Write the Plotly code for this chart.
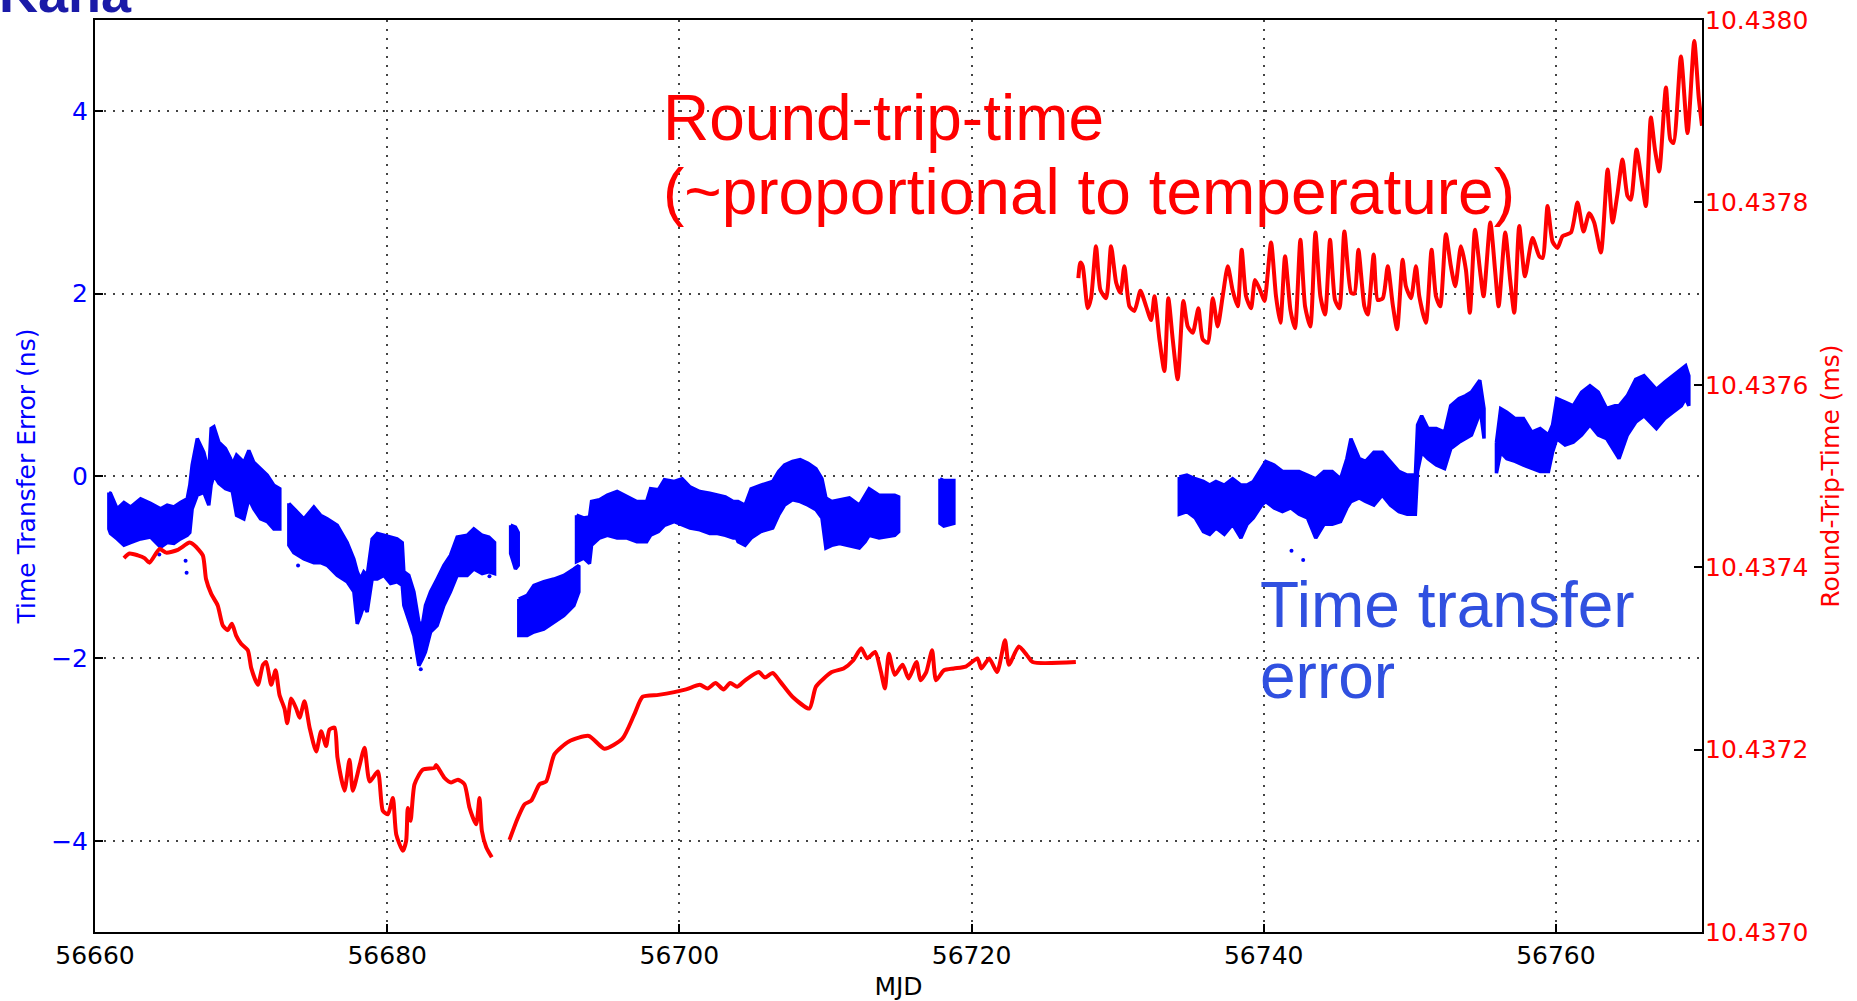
import plotly.graph_objects as go

# ---------------- Time transfer error (ns): band envelopes per data segment ----------------
segA_mjd = [56660.95, 56661.06, 56661.52, 56661.98, 56662.43, 56663.12, 56663.80, 56664.49, 56664.94,
            56665.40, 56665.85, 56666.31, 56666.49, 56666.65, 56667.00, 56667.45, 56667.79, 56667.95,
            56668.14, 56668.48, 56668.93, 56669.28, 56669.39, 56669.69, 56670.19, 56670.53, 56670.87,
            56671.33, 56671.79, 56672.24, 56672.65]
segA_top = [-0.18, -0.19, -0.36, -0.29, -0.34, -0.25, -0.30, -0.36, -0.32, -0.34, -0.29, -0.25, -0.10,
            0.12, 0.41, 0.26, 0.04, 0.52, 0.54, 0.37, 0.30, 0.19, 0.12, 0.23, 0.15, 0.28, 0.15, 0.08,
            0.01, -0.10, -0.14]
segA_bot = [-0.58, -0.63, -0.69, -0.76, -0.73, -0.69, -0.67, -0.78, -0.73, -0.74, -0.69, -0.65, -0.62,
            -0.36, -0.21, -0.18, -0.32, -0.10, 0.01, -0.08, -0.14, -0.16, -0.16, -0.43, -0.47, -0.25,
            -0.36, -0.47, -0.50, -0.58, -0.58]

segB_mjd = [56673.27, 56673.61, 56674.30, 56674.98, 56675.44, 56675.89, 56676.58, 56677.26, 56677.72,
            56677.95, 56678.17, 56678.40, 56678.63, 56678.97, 56679.32, 56679.77, 56680.23, 56680.68,
            56681.03, 56681.14, 56681.48, 56681.83, 56682.17, 56682.40, 56682.62, 56682.97, 56683.42,
            56683.88, 56684.33, 56684.79, 56685.48, 56685.93, 56686.50, 56686.96, 56687.35]
segB_top = [-0.30, -0.36, -0.47, -0.34, -0.43, -0.47, -0.54, -0.73, -0.91, -1.05, -1.13, -1.05, -1.09,
            -0.69, -0.63, -0.65, -0.67, -0.69, -0.73, -1.05, -1.09, -1.27, -1.60, -1.64, -1.42, -1.27,
            -1.13, -0.98, -0.87, -0.67, -0.65, -0.58, -0.65, -0.67, -0.73]
segB_bot = [-0.76, -0.84, -0.91, -0.95, -0.95, -0.98, -1.09, -1.16, -1.27, -1.62, -1.53, -1.42, -1.49,
            -1.13, -1.13, -1.09, -1.18, -1.16, -1.20, -1.42, -1.57, -1.75, -2.08, -2.01, -1.93, -1.71,
            -1.64, -1.42, -1.27, -1.09, -1.09, -1.02, -1.07, -1.05, -1.07]

segC_mjd = [56688.45, 56688.78, 56688.97]
segC_top = [-0.54, -0.56, -0.62]
segC_bot = [-0.85, -1.02, -0.98]

segD_mjd = [56689.01, 56689.58, 56690.04, 56690.72, 56691.41, 56692.09, 56692.78, 56693.12]
segD_top = [-1.35, -1.31, -1.20, -1.16, -1.13, -1.09, -1.02, -0.98]
segD_bot = [-1.75, -1.75, -1.71, -1.68, -1.60, -1.53, -1.42, -1.27]

segE_mjd = [56692.96, 56693.45, 56693.85, 56693.99, 56694.53, 56695.07, 56695.74, 56696.42, 56697.09,
            56697.76, 56698.03, 56698.57, 56698.98, 56699.65, 56700.19, 56700.73, 56701.40, 56702.08,
            56702.61, 56703.15, 56703.69, 56703.91, 56704.02, 56704.50, 56704.91, 56705.58, 56706.39,
            56706.79, 56707.20, 56707.74, 56708.27, 56708.81, 56709.35, 56709.76, 56710.03, 56710.43,
            56710.97, 56711.64, 56712.32, 56712.72, 56712.99, 56713.67, 56714.20, 56714.74, 56715.01]
segE_top = [-0.43, -0.46, -0.45, -0.28, -0.26, -0.21, -0.17, -0.23, -0.28, -0.28, -0.14, -0.15, -0.04,
            -0.06, -0.03, -0.12, -0.17, -0.19, -0.21, -0.23, -0.28, -0.28, -0.28, -0.32, -0.14, -0.10,
            -0.06, 0.05, 0.12, 0.16, 0.18, 0.14, 0.08, -0.03, -0.24, -0.28, -0.26, -0.24, -0.32, -0.21,
            -0.14, -0.21, -0.21, -0.21, -0.23]
segE_bot = [-0.94, -0.90, -0.96, -0.76, -0.68, -0.65, -0.68, -0.68, -0.72, -0.72, -0.65, -0.61, -0.54,
            -0.50, -0.54, -0.57, -0.59, -0.63, -0.63, -0.65, -0.68, -0.68, -0.72, -0.76, -0.68, -0.61,
            -0.57, -0.43, -0.32, -0.26, -0.28, -0.32, -0.37, -0.46, -0.79, -0.76, -0.74, -0.76, -0.79,
            -0.72, -0.65, -0.68, -0.67, -0.65, -0.61]

segF_mjd = [56717.84, 56718.10, 56718.79]
segF_top = [-0.03, -0.05, -0.05]
segF_bot = [-0.52, -0.55, -0.52]

segG_mjd = [56734.22, 56734.74, 56735.31, 56735.87, 56736.30, 56736.73, 56737.30, 56737.87, 56738.44,
            56738.86, 56739.29, 56739.86, 56740.14, 56740.71, 56741.28, 56741.85, 56742.42, 56742.99,
            56743.56, 56744.13, 56744.69, 56745.26, 56745.69, 56745.97, 56746.54, 56746.97, 56747.54,
            56748.11, 56748.68, 56749.25, 56749.82, 56750.38, 56750.53, 56750.81, 56751.24, 56751.81,
            56752.38, 56752.80, 56753.37, 56753.80, 56754.22, 56754.65, 56754.79, 56755.08]
segG_top = [-0.01, 0.01, -0.03, -0.06, -0.10, -0.06, -0.10, -0.03, -0.10, -0.10, -0.06, 0.08, 0.16,
            0.12, 0.05, 0.05, 0.05, 0.01, -0.03, 0.05, 0.05, -0.03, 0.19, 0.41, 0.19, 0.16, 0.26, 0.26,
            0.16, 0.05, 0.01, 0.01, 0.56, 0.66, 0.52, 0.52, 0.48, 0.77, 0.85, 0.88, 0.92, 1.03, 1.05, 0.74]
segG_bot = [-0.42, -0.39, -0.46, -0.61, -0.64, -0.57, -0.64, -0.53, -0.68, -0.53, -0.46, -0.32, -0.28,
            -0.35, -0.39, -0.35, -0.42, -0.46, -0.68, -0.53, -0.53, -0.50, -0.35, -0.28, -0.24, -0.28,
            -0.32, -0.21, -0.32, -0.39, -0.42, -0.42, 0.05, 0.26, 0.19, 0.12, 0.08, 0.30, 0.37, 0.41,
            0.45, 0.63, 0.77, 0.41]

segH_mjd = [56755.93, 56756.22, 56756.64, 56757.21, 56757.78, 56758.35, 56758.92, 56759.49, 56759.77,
            56760.06, 56760.63, 56761.19, 56761.76, 56762.33, 56762.90, 56763.47, 56764.04, 56764.32,
            56764.89, 56765.46, 56766.03, 56766.46, 56766.88, 56767.45, 56768.02, 56768.59, 56768.88,
            56769.10]
segH_top = [0.37, 0.74, 0.70, 0.63, 0.63, 0.48, 0.52, 0.45, 0.56, 0.85, 0.81, 0.77, 0.92, 0.99, 0.92,
            0.74, 0.77, 0.77, 0.88, 1.06, 1.10, 1.03, 0.95, 1.03, 1.10, 1.17, 1.21, 1.10]
segH_bot = [0.03, 0.26, 0.19, 0.16, 0.12, 0.08, 0.05, 0.05, 0.26, 0.41, 0.34, 0.37, 0.45, 0.56, 0.45,
            0.41, 0.26, 0.19, 0.45, 0.59, 0.66, 0.59, 0.52, 0.63, 0.70, 0.77, 0.85, 0.77]

# isolated outlier samples of the time transfer error (ns)
outlier_mjd = [56666.27, 56666.20, 56664.40, 56673.9, 56682.3, 56687.0, 56741.9, 56742.7]
outlier_ns = [-1.06, -0.93, -0.86, -0.98, -2.12, -1.10, -0.82, -0.92]

# ---------------- Round-trip time (ms) ----------------
rtt1_mjd = [56661.98, 56662.36, 56662.93, 56663.39, 56663.73, 56664.42, 56664.87, 56665.67, 56666.47,
            56666.80, 56667.38, 56667.60, 56667.95, 56668.40, 56668.75, 56669.08, 56669.37, 56669.66,
            56670.00, 56670.46, 56670.70, 56671.15, 56671.50, 56671.72, 56672.06, 56672.36, 56672.63,
            56672.97, 56673.16, 56673.43, 56673.77, 56674.00, 56674.34, 56674.69, 56675.14, 56675.48,
            56675.82, 56676.05, 56676.40, 56676.60, 56677.08, 56677.42, 56677.65, 56678.10, 56678.45,
            56678.80, 56679.36, 56679.70, 56680.05, 56680.39, 56680.62, 56681.07, 56681.30, 56681.41,
            56681.60, 56681.87, 56682.44, 56683.24, 56683.35, 56683.92, 56684.38, 56684.84, 56685.29,
            56685.64, 56686.09, 56686.32, 56686.48, 56686.78, 56687.16]
rtt1_ms = [10.437410, 10.437415, 10.437413, 10.437410, 10.437405, 10.437420, 10.437416, 10.437419,
           10.437427, 10.437424, 10.437413, 10.437387, 10.437371, 10.437358, 10.437336, 10.437331,
           10.437338, 10.437325, 10.437316, 10.437309, 10.437289, 10.437271, 10.437293, 10.437296,
           10.437271, 10.437287, 10.437260, 10.437245, 10.437229, 10.437256, 10.437245, 10.437235,
           10.437253, 10.437224, 10.437198, 10.437220, 10.437204, 10.437222, 10.437224, 10.437191,
           10.437155, 10.437189, 10.437155, 10.437182, 10.437202, 10.437165, 10.437176, 10.437133,
           10.437129, 10.437147, 10.437107, 10.437089, 10.437100, 10.437136, 10.437122, 10.437162,
           10.437178, 10.437180, 10.437183, 10.437169, 10.437164, 10.437167, 10.437162, 10.437136,
           10.437118, 10.437147, 10.437111, 10.437093, 10.437082]

rtt2_mjd = [56688.37, 56688.94, 56689.40, 56689.86, 56690.43, 56690.88, 56691.45, 56692.44, 56693.80,
            56694.87, 56696.10, 56696.90, 56697.49, 56698.57, 56699.65, 56700.46, 56701.40, 56701.94,
            56702.48, 56703.02, 56703.48, 56703.96, 56704.50, 56705.44, 56705.85, 56706.39, 56706.93,
            56707.74, 56708.90, 56709.35, 56710.43, 56711.24, 56711.91, 56712.45, 56712.86, 56713.40,
            56713.80, 56714.07, 56714.34, 56714.74, 56715.28, 56715.69, 56716.23, 56716.50, 56716.90,
            56717.30, 56717.57, 56718.11, 56718.79, 56719.60, 56720.40, 56720.67, 56721.21, 56721.75,
            56722.29, 56722.56, 56723.23, 56723.77, 56724.18, 56727.14]
rtt2_ms = [10.437101, 10.437125, 10.437140, 10.437144, 10.437162, 10.437165, 10.437195, 10.437209,
           10.437215, 10.437201, 10.437212, 10.437238, 10.437258, 10.437260, 10.437263, 10.437266,
           10.437271, 10.437267, 10.437273, 10.437266, 10.437273, 10.437269, 10.437276, 10.437285,
           10.437279, 10.437284, 10.437274, 10.437258, 10.437245, 10.437269, 10.437285, 10.437289,
           10.437298, 10.437311, 10.437300, 10.437307, 10.437285, 10.437267, 10.437305, 10.437282,
           10.437293, 10.437278, 10.437296, 10.437276, 10.437285, 10.437309, 10.437276, 10.437287,
           10.437289, 10.437291, 10.437300, 10.437289, 10.437300, 10.437285, 10.437320, 10.437293,
           10.437313, 10.437304, 10.437296, 10.437296]

rtt3_mjd = [56727.31, 56727.45, 56727.61, 56727.95, 56728.18, 56728.52, 56728.82, 56729.21, 56729.55,
            56729.90, 56730.19, 56730.46, 56730.81, 56731.15, 56731.56, 56731.95, 56732.29, 56732.52,
            56732.86, 56733.20, 56733.47, 56733.77, 56734.11, 56734.50, 56734.80, 56735.14, 56735.53,
            56735.82, 56736.17, 56736.51, 56736.85, 56737.19, 56737.54, 56737.88, 56738.22, 56738.49,
            56738.79, 56739.13, 56739.41, 56739.82, 56740.05, 56740.50, 56740.84, 56741.14, 56741.46,
            56741.83, 56742.14, 56742.51, 56742.83, 56743.19, 56743.54, 56743.88, 56744.20, 56744.54,
            56744.88, 56745.18, 56745.52, 56745.98, 56746.21, 56746.48, 56746.89, 56747.12, 56747.53,
            56747.80, 56748.15, 56748.49, 56748.83, 56749.13, 56749.51, 56749.73, 56750.08, 56750.42,
            56750.65, 56751.10, 56751.49, 56751.79, 56752.08, 56752.47, 56752.81, 56753.11, 56753.50,
            56753.84, 56754.11, 56754.46, 56754.80, 56755.05, 56755.51, 56755.85, 56756.08, 56756.53,
            56756.87, 56757.15, 56757.49, 56757.88, 56758.40, 56758.86, 56759.09, 56759.43, 56759.77,
            56760.11, 56760.46, 56761.03, 56761.48, 56761.89, 56762.28, 56762.62, 56763.08, 56763.54,
            56763.88, 56764.22, 56764.56, 56764.90, 56765.13, 56765.52, 56765.86, 56766.16, 56766.50,
            56766.78, 56767.07, 56767.53, 56767.83, 56768.05, 56768.56, 56769.01, 56769.47, 56769.77,
            56770.00]
rtt3_ms = [10.437717, 10.437734, 10.437730, 10.437684, 10.437695, 10.437752, 10.437704, 10.437695,
           10.437752, 10.437712, 10.437701, 10.437730, 10.437686, 10.437681, 10.437703, 10.437686,
           10.437671, 10.437697, 10.437650, 10.437615, 10.437695, 10.437650, 10.437606, 10.437692,
           10.437664, 10.437657, 10.437684, 10.437650, 10.437646, 10.437695, 10.437664, 10.437697,
           10.437730, 10.437703, 10.437686, 10.437748, 10.437697, 10.437684, 10.437715, 10.437701,
           10.437692, 10.437756, 10.437697, 10.437668, 10.437741, 10.437682, 10.437662, 10.437759,
           10.437686, 10.437664, 10.437767, 10.437697, 10.437677, 10.437759, 10.437693, 10.437684,
           10.437768, 10.437701, 10.437700, 10.437748, 10.437686, 10.437677, 10.437743, 10.437693,
           10.437695, 10.437730, 10.437688, 10.437661, 10.437737, 10.437708, 10.437695, 10.437730,
           10.437697, 10.437668, 10.437748, 10.437697, 10.437686, 10.437765, 10.437730, 10.437708,
           10.437752, 10.437726, 10.437679, 10.437770, 10.437726, 10.437697, 10.437778, 10.437723,
           10.437686, 10.437767, 10.437715, 10.437679, 10.437774, 10.437719, 10.437761, 10.437741,
           10.437739, 10.437796, 10.437757, 10.437750, 10.437763, 10.437767, 10.437800, 10.437768,
           10.437788, 10.437778, 10.437745, 10.437836, 10.437778, 10.437810, 10.437847, 10.437807,
           10.437803, 10.437858, 10.437825, 10.437796, 10.437893, 10.437858, 10.437834, 10.437926,
           10.437869, 10.437865, 10.437960, 10.437876, 10.437977, 10.437916, 10.437884]

x_ticks = [56660, 56680, 56700, 56720, 56740, 56760]
x_ticktext = ["56660", "56680", "56700", "56720", "56740", "56760"]
left_ticks = [-4, -2, 0, 2, 4]
left_ticktext = ["\u22124", "\u22122", "0", "2", "4"]
right_ticks = [10.4370, 10.4372, 10.4374, 10.4376, 10.4378, 10.4380]
right_ticktext = ["10.4370", "10.4372", "10.4374", "10.4376", "10.4378", "10.4380"]

BLUE = "#0000ff"
RED = "#ff0000"
TICKFONT = "DejaVu Sans"

fig = go.Figure()

segments = [(segA_mjd, segA_top, segA_bot), (segB_mjd, segB_top, segB_bot),
            (segC_mjd, segC_top, segC_bot), (segD_mjd, segD_top, segD_bot),
            (segE_mjd, segE_top, segE_bot), (segF_mjd, segF_top, segF_bot),
            (segG_mjd, segG_top, segG_bot), (segH_mjd, segH_top, segH_bot)]
for mj, tp, bt in segments:
    xs = list(mj) + list(reversed(mj)) + [mj[0]]
    ys = list(tp) + list(reversed(bt)) + [tp[0]]
    fig.add_trace(go.Scatter(x=xs, y=ys, mode="lines", fill="toself", fillcolor=BLUE,
                             line=dict(color=BLUE, width=3.5), hoverinfo="skip",
                             showlegend=False, yaxis="y"))

fig.add_trace(go.Scatter(x=outlier_mjd, y=outlier_ns, mode="markers",
                         marker=dict(color=BLUE, size=4), showlegend=False, yaxis="y"))

rtt_x = rtt1_mjd + [None] + rtt2_mjd + [None] + rtt3_mjd
rtt_y = rtt1_ms + [None] + rtt2_ms + [None] + rtt3_ms
fig.add_trace(go.Scatter(x=rtt_x, y=rtt_y, mode="lines", connectgaps=False,
                         line=dict(color=RED, width=4, shape="spline", smoothing=0.6),
                         showlegend=False, yaxis="y2"))

grid_dash = "2px,7px"
fig.update_layout(
    width=1857, height=1001,
    margin=dict(l=95, r=155, t=20, b=69, pad=0, autoexpand=False),
    paper_bgcolor="white", plot_bgcolor="white",
    showlegend=False,
    xaxis=dict(range=[56660, 56770], tickvals=x_ticks, ticktext=x_ticktext, ticks="inside",
               ticklen=8, tickwidth=1.5, automargin=False,
               tickcolor="black", showline=True, linecolor="black", linewidth=2, mirror=True,
               showgrid=True, gridcolor="#444444", gridwidth=2, griddash=grid_dash,
               zeroline=False, tickfont=dict(family=TICKFONT, size=25, color="black"),
               title=dict(text="MJD", font=dict(family=TICKFONT, size=25, color="black"),
                          standoff=8)),
    yaxis=dict(range=[-5, 5], tickvals=left_ticks, ticktext=left_ticktext, ticks="inside",
               ticklen=8, tickwidth=1.5, tickcolor="black", showline=True, linecolor="black",
               linewidth=2, mirror=True, showgrid=True, gridcolor="#444444", gridwidth=2,
               griddash=grid_dash, zeroline=False, ticklabelstandoff=0, automargin=False,
               tickfont=dict(family=TICKFONT, size=25, color=BLUE),
               title=dict(text="Time Transfer Error (ns)",
                          font=dict(family=TICKFONT, size=25, color=BLUE), standoff=8)),
    yaxis2=dict(range=[10.4370, 10.4380], overlaying="y", side="right", tickvals=right_ticks,
                ticktext=right_ticktext, ticks="inside", ticklen=8, tickwidth=1.5,
                tickcolor="black", showline=True, linecolor="black", linewidth=2,
                showgrid=False, zeroline=False, ticklabelstandoff=-4, automargin=False,
                tickfont=dict(family=TICKFONT, size=25, color=RED),
                title=dict(text="Round-Trip-Time (ms)",
                           font=dict(family=TICKFONT, size=25, color=RED), standoff=14)),
)

ann_font = "Liberation Sans"
fig.add_annotation(text="Round-trip-time", xref="paper", yref="paper", x=0.3522, y=0.893,
                   xanchor="left", yanchor="middle", showarrow=False,
                   font=dict(family=ann_font, size=64, color=RED))
fig.add_annotation(text="(~proportional to temperature)", xref="paper", yref="paper", x=0.3522,
                   y=0.811, xanchor="left", yanchor="middle", showarrow=False,
                   font=dict(family=ann_font, size=64, color=RED))
fig.add_annotation(text="Time transfer", xref="paper", yref="paper", x=0.7237, y=0.3586,
                   xanchor="left", yanchor="middle", showarrow=False,
                   font=dict(family=ann_font, size=64, color="#3050e0"))
fig.add_annotation(text="error", xref="paper", yref="paper", x=0.7237, y=0.2807,
                   xanchor="left", yanchor="middle", showarrow=False,
                   font=dict(family=ann_font, size=64, color="#3050e0"))
fig.add_annotation(text="<b>Kana</b>", xref="paper", yref="paper", x=0.0, y=1.0,
                   xshift=-95 + 134, yshift=-5, xanchor="right", yanchor="bottom", showarrow=False,
                   font=dict(family=ann_font, size=54, color="#1a1aa8"))

fig.write_html("out.html", config={"displayModeBar": False},
               post_script="document.body.style.margin='0px';")
